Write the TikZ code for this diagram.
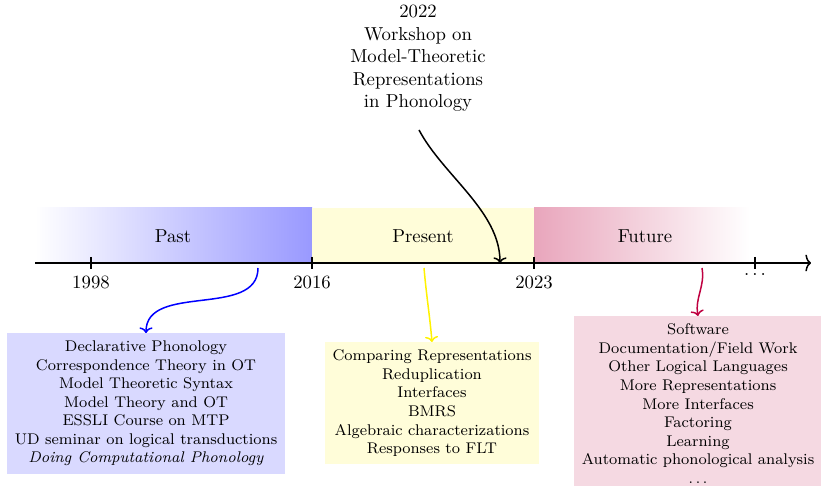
\documentclass[tikz,border=0pt]{standalone}
\usetikzlibrary{arrows.meta}
\begin{document}
\begin{tikzpicture}[x=0.5333pt,y=-0.5333pt,
  tickmark/.style={thick},
  yearlabel/.style={inner sep=0pt},
  topicbox/.style={align=center,inner sep=4pt,font=\fontsize{8.25}{9.9}\selectfont},
  pointer/.style={thick,-{To[length=3pt,width=7pt]}},
]
\useasboundingbox (0,0) rectangle (821,486);

% era bands above the time line
\shade[left color=white,right color=blue!40] (35,208) rectangle (312,263);
\fill[yellow!15] (312,208) rectangle (534,263);
\shade[left color=purple!35,right color=white] (534,208) rectangle (750,263);
\node (past) at (173,236) {Past};
\node (present) at (423,236) {Present};
\node (future) at (645,236) {Future};

% time line with ticks
\coordinate (start) at (35,263);
\coordinate (end) at (811,263);
\draw[thick,-{To[length=3pt,width=9pt]}] (start) -- (end);
\foreach \x/\n in {91/a,312/b,534/c,755/d}{
  \coordinate (t\n) at (\x,263);
  \draw[tickmark] (\x,257) -- (\x,269);
}
\node[yearlabel] (y1998) at (91,282) {1998};
\node[yearlabel] (y2016) at (312,282) {2016};
\node[yearlabel] (y2023) at (534,282) {2023};
\node[yearlabel] (ydots) at (755,275) {$\ldots$};

% workshop call-out
\node[align=center,anchor=north,inner sep=0pt] (workshop) at (418,5)
  {2022\\Workshop on\\Model-Theoretic\\Representations\\in Phonology};
\coordinate (wsfrom) at (419,130);
\coordinate (wsto) at (500,263);
\draw[pointer] (wsfrom) to[out=-62,in=90,looseness=0.85] (wsto);

% topic boxes
\node[topicbox,fill=blue!15,anchor=north] (pastbox) at (146,333)
  {Declarative Phonology\\Correspondence Theory in OT\\Model Theoretic Syntax\\Model Theory and OT\\ESSLI Course on MTP\\UD seminar on logical transductions\\\textit{Doing Computational Phonology}};
\node[topicbox,fill=yellow!15,anchor=north] (presentbox) at (432,342)
  {Comparing Representations\\Reduplication\\Interfaces\\BMRS\\Algebraic characterizations\\Responses to FLT};
\node[topicbox,fill=purple!15,anchor=north] (futurebox) at (698,316)
  {Software\\Documentation/Field Work\\Other Logical Languages\\More Representations\\More Interfaces\\Factoring\\Learning\\Automatic phonological analysis\\$\ldots$};

% pointers from the time line to the boxes
\coordinate (pastfrom) at (258,268);
\coordinate (presentfrom) at (424,268);
\coordinate (futurefrom) at (702,268);
\draw[pointer,blue] (pastfrom) to[out=-90,in=90] (pastbox.north);
\draw[pointer,yellow] (presentfrom) to[out=-85,in=95] (presentbox.north);
\draw[pointer,purple] (futurefrom) to[out=-80,in=100] (futurebox.north);
\end{tikzpicture}
\end{document}
